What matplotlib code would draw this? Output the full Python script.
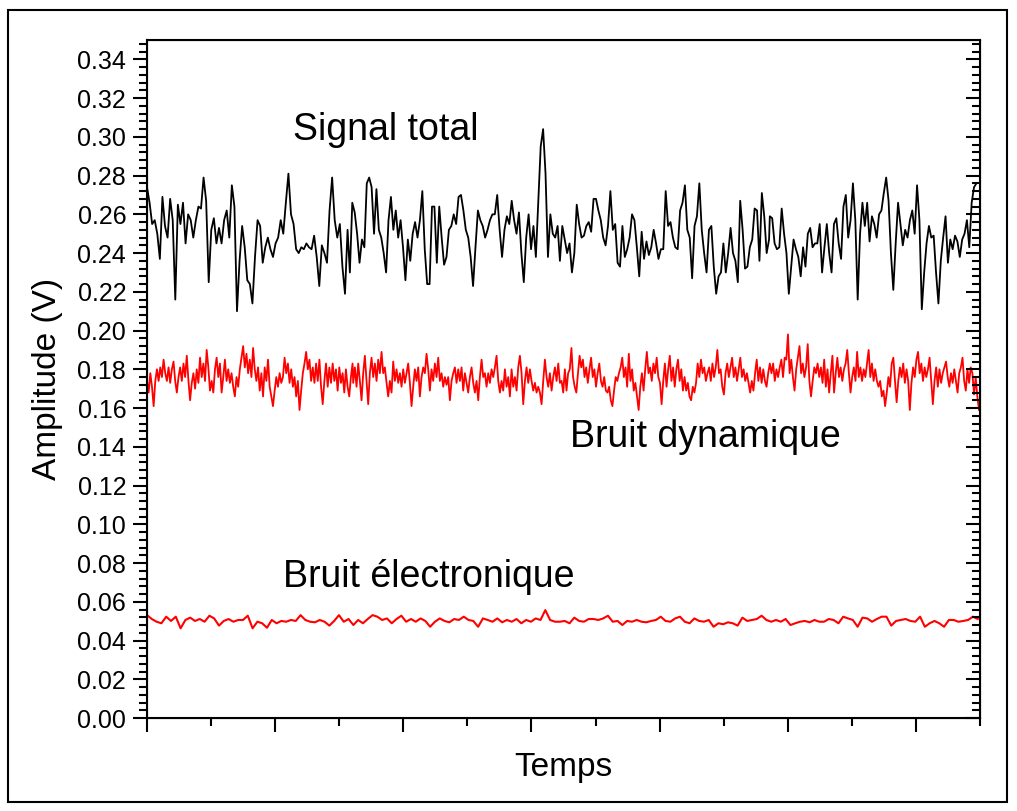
import numpy as np
import matplotlib
matplotlib.use("Agg")
import matplotlib.pyplot as plt
from matplotlib.ticker import MultipleLocator, FormatStrFormatter
from matplotlib.patches import Rectangle

plt.rcParams['font.family'] = ['Liberation Sans', 'DejaVu Sans']

# Signal total (V), par tronçons
total_1 = [.274, .266, .255, .257, .250, .237, .269, .254, .248, .268,
           .257, .216, .265, .255, .266, .245, .260, .257, .248, .257,
           .264, .263, .279, .267, .225, .252, .258, .245, .253, .245,
           .257, .262, .248, .275, .264, .210, .236, .254, .243, .226,
           .224, .214, .238, .257, .254, .235, .243, .248, .242, .238,
           .245, .248, .257, .250, .266, .281, .260, .255, .242, .240,
           .243, .242, .245, .243, .242, .249, .238, .223, .244, .240,
           .235, .262, .279, .257, .248, .255, .233, .219, .252]
total_2 = [.230, .266, .261, .250, .235, .247, .243, .276, .279, .274,
           .250, .273, .252, .248, .240, .230, .257, .269, .252, .262,
           .248, .257, .243, .226, .247, .236, .250, .256, .248, .257,
           .272, .242, .224, .224, .264, .264, .235, .264, .248, .234,
           .238, .252, .254, .260, .255, .269, .270, .262, .252, .248,
           .238, .223, .243, .262, .257, .254, .248, .252, .257, .260,
           .260, .270, .252, .238, .252, .259, .255, .267, .257, .250,
           .261, .240, .225, .248, .260, .242, .254, .238, .266, .295,
           .304, .281, .238, .260, .250, .248, .254]
total_3 = [.236, .254, .247, .240, .245, .230, .240, .265, .255, .248,
           .249, .254, .256, .251, .268, .268, .262, .257, .248, .244,
           .254, .272, .252, .255, .235, .233, .254, .238, .242, .248,
           .260, .257, .243, .228, .251, .237, .246, .239, .243, .252,
           .245, .237, .242, .242, .272, .254, .256, .248, .243, .242,
           .262, .266, .275, .252, .248, .227, .254, .259, .276, .252,
           .240, .230, .252, .254, .233, .219, .228, .230, .245, .230,
           .240, .253, .240, .236, .225, .267, .252, .232, .233, .243,
           .247, .263, .262, .236, .271, .259, .240, .247]
total_4 = [.259, .258, .245, .242, .243, .263, .250, .240, .219, .233,
           .247, .242, .238, .228, .243, .233, .250, .253, .243, .245,
           .245, .255, .230, .243, .255, .240, .230, .255, .258, .245,
           .237, .264, .270, .248, .257, .276, .257, .216, .250, .266,
           .254, .266, .246, .259, .255, .248, .260, .262, .271, .279,
           .267, .240, .221, .245, .266, .255, .244, .252, .248, .257,
           .262, .250, .275, .257, .211, .230, .245, .254, .248, .249,
           .230, .214, .236, .248, .259, .235, .247, .242, .249, .246,
           .238, .247, .250, .257, .243, .266, .274, .276]

# Bruit dynamique (V)
dyn_1 = [.174, .168, .178, .171, .161, .174, .180, .174, .181, .176,
         .185, .178, .174, .181, .173, .180, .184, .174, .168, .176,
         .181, .174, .183, .176, .187, .174, .164, .173, .178, .170,
         .180, .173, .186, .176, .183, .174, .190, .181, .169, .174,
         .168, .180, .186, .176, .183, .168, .176, .185, .174, .180,
         .173, .178, .171, .166, .176, .171, .180, .186, .192, .181,
         .188, .178, .185, .176, .191, .180, .174, .181, .169, .178,
         .166, .181, .174, .185, .171, .166, .161, .169, .176, .171,
         .178, .173, .176, .186, .178, .183, .173, .180, .171, .176,
         .166, .174, .159, .169, .178, .183, .189, .180, .185, .174,
         .181, .173, .183, .174, .185, .171, .162, .174, .183, .171,
         .181, .173, .183, .174, .180, .169, .181, .173, .178, .168,
         .180, .171, .166, .176, .183]
dyn_2 = [.173, .181, .171, .183, .174, .164, .178, .187, .174, .162,
         .178, .186, .176, .183, .174, .185, .178, .189, .178, .181,
         .173, .166, .174, .168, .184, .174, .180, .173, .178, .171,
         .180, .173, .178, .183, .173, .161, .171, .180, .174, .181,
         .166, .176, .181, .178, .188, .180, .169, .180, .174, .183,
         .176, .186, .174, .178, .171, .176, .172, .176, .164, .174,
         .178, .181, .173, .180, .174, .181, .169, .178, .173, .168,
         .176, .181, .173, .168, .174, .164, .176, .185, .176, .178,
         .171, .178, .173, .180, .176, .181, .187, .174, .168, .174,
         .169, .180, .171, .176, .166, .180, .171, .176, .169, .181,
         .187, .178, .162, .174, .181, .173, .180, .174, .169, .173,
         .168, .171, .168, .162, .174, .185, .176, .171, .178, .169,
         .176, .181, .174, .183, .173]
dyn_3 = [.174, .168, .180, .169, .178, .180, .191, .176, .171, .168,
         .178, .187, .181, .185, .176, .181, .173, .180, .186, .176,
         .180, .171, .178, .183, .174, .171, .176, .169, .168, .171,
         .164, .161, .169, .176, .174, .178, .181, .186, .176, .181,
         .171, .188, .174, .180, .169, .173, .166, .159, .171, .178,
         .169, .180, .189, .178, .181, .174, .183, .178, .186, .176,
         .173, .162, .174, .183, .171, .180, .187, .174, .181, .171,
         .180, .185, .174, .180, .169, .176, .169, .173, .166, .164,
         .171, .168, .173, .183, .176, .185, .178, .181, .174, .178,
         .181, .174, .183, .176, .181, .190, .178, .180, .171, .167,
         .178, .183, .176, .181, .186, .176, .181, .174, .180, .186,
         .176, .180, .174, .178, .173, .168, .174, .169, .178, .185,
         .174, .181, .173, .180, .174, .171, .178, .183]
dyn_4 = [.178, .183, .174, .180, .176, .181, .185, .176, .186, .185,
         .198, .178, .185, .176, .169, .180, .186, .192, .178, .183,
         .176, .181, .193, .174, .166, .174, .181, .178, .183, .176,
         .181, .173, .185, .171, .180, .168, .178, .187, .168, .178,
         .186, .176, .181, .174, .180, .183, .190, .178, .168, .176,
         .181, .174, .189, .176, .181, .174, .180, .176, .183, .190,
         .176, .183, .174, .180, .174, .171, .174, .166, .169, .161,
         .168, .176, .171, .183, .186, .174, .163, .174, .181, .176,
         .183, .173, .180, .174, .159, .173, .181, .176, .185, .189,
         .178, .183, .174, .181, .176, .180, .186, .174, .162, .174,
         .181, .171, .180, .173, .178, .181, .184, .176, .171, .178,
         .173, .180, .174, .168, .178, .181, .186, .174, .169, .180,
         .173, .181, .178, .167, .176, .166, .159]

# Bruit électronique (V)
elec_1 = [.0531, .0511, .0497, .0489, .0523, .0501, .0523, .0463, .0506, .0518,
          .0501, .0511, .0497, .0528, .0514, .0477, .0501, .0511, .0497, .0506,
          .0506, .0528, .0463, .0497, .0489, .0466, .0506, .0489, .0501, .0497,
          .0506, .0501, .0531, .0506, .0497, .0494, .0506, .0497, .0477, .0501,
          .0531, .0497, .0511, .0480, .0506, .0489, .0511, .0531, .0523, .0506,
          .0514, .0489, .0511, .0528, .0497, .0511, .0497, .0514, .0501, .0471,
          .0497, .0514, .0501, .0494, .0511, .0506, .0523, .0506, .0501, .0471,
          .0514, .0506, .0497, .0514, .0494, .0506, .0497, .0511, .0489, .0506,
          .0497, .0514, .0506, .0557, .0506, .0497]
elec_2 = [.0497, .0501, .0489, .0518, .0501, .0497, .0511, .0511, .0506, .0514,
          .0528, .0497, .0501, .0480, .0501, .0497, .0506, .0497, .0494, .0501,
          .0506, .0523, .0501, .0497, .0514, .0523, .0497, .0489, .0514, .0501,
          .0497, .0506, .0471, .0489, .0484, .0494, .0489, .0477, .0518, .0501,
          .0506, .0511, .0528, .0506, .0497, .0506, .0497, .0511, .0480, .0489,
          .0497, .0501, .0494, .0506, .0497, .0497, .0511, .0506, .0489, .0523,
          .0514, .0506, .0471, .0518, .0514, .0497, .0511, .0523, .0523, .0477,
          .0501, .0506, .0511, .0501, .0497, .0523, .0471, .0489, .0501, .0489,
          .0471, .0506, .0506, .0497, .0501, .0506, .0523, .0511]

# Début et fin (en unités de temps) de chaque tronçon
t_total = [(0.0, 1.565), (1.583, 3.204), (3.222, 4.854), (4.860, 6.472)]
t_dyn = [(0.0, 1.604), (1.609, 3.222), (3.235, 4.860), (4.873, 6.492)]
t_elec = [(0.0, 3.183), (3.222, 6.482)]


def assembler(tronçons, bornes):
    t = np.concatenate([np.linspace(a, b, len(v)) for v, (a, b) in zip(tronçons, bornes)])
    y = np.concatenate([np.array(v) for v in tronçons])
    return t, y


t1, y1 = assembler([total_1, total_2, total_3, total_4], t_total)
t2, y2 = assembler([dyn_1, dyn_2, dyn_3, dyn_4], t_dyn)
t3, y3 = assembler([elec_1, elec_2], t_elec)

fig = plt.figure(figsize=(10.17, 8.11), dpi=100)
ax = fig.add_axes([147/1017, 93/811, 833/1017, 678/811])

ax.plot(t1, y1, color='black', lw=1.3)
ax.plot(t2, y2, color='#ff0000', lw=1.3)
ax.plot(t3, y3, color='#ff0000', lw=1.5)

ax.set_xlim(0, 6.5)
ax.set_ylim(0, 0.35)
ax.xaxis.set_major_locator(MultipleLocator(1))
ax.xaxis.set_minor_locator(MultipleLocator(0.5))
ax.yaxis.set_major_locator(MultipleLocator(0.02))
ax.yaxis.set_minor_locator(MultipleLocator(0.004))
ax.yaxis.set_major_formatter(FormatStrFormatter('%.2f'))
ax.tick_params(which='both', direction='out', width=1.5, labelsize=18, pad=5)
ax.tick_params(which='major', length=10)
ax.tick_params(which='minor', length=5.5)
ax.tick_params(axis='x', labelbottom=False)
for s in ax.spines.values():
    s.set_linewidth(1.5)

# graduations intérieures à droite
ax2 = ax.twinx()
ax2.set_ylim(0, 0.35)
ax2.yaxis.set_major_locator(MultipleLocator(0.02))
ax2.yaxis.set_minor_locator(MultipleLocator(0.004))
ax2.tick_params(which='both', direction='in', width=1.5, labelright=False)
ax2.tick_params(which='major', length=10)
ax2.tick_params(which='minor', length=5.5)

ax.set_xlabel('Temps', fontsize=24, labelpad=14)
ax.set_ylabel('Amplitude (V)', fontsize=24, labelpad=10)

ax.text(1.14, 0.3034, 'Signal total', fontsize=27, va='center')
ax.text(3.30, 0.145, 'Bruit dynamique', fontsize=27, va='center')
ax.text(1.06, 0.0728, 'Bruit électronique', fontsize=27, va='center')

fig.patches.append(Rectangle((8/1017, 9/811), 999/1017, 792/811, transform=fig.transFigure,
                             fill=False, lw=1.5, ec='black'))

fig.savefig('out.png', dpi=100)
